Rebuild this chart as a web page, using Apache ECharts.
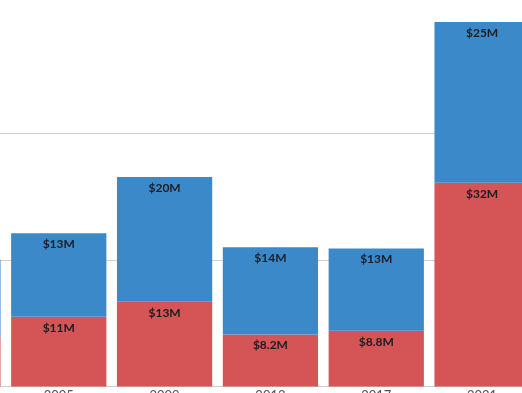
<!DOCTYPE html>
<html>
<head>
<meta charset="utf-8">
<script src="https://cdn.jsdelivr.net/npm/echarts@6/dist/echarts.min.js"></script>
<style>
html,body{margin:0;padding:0;background:#fff;}
#chart{width:522px;height:393px;}
</style>
</head>
<body>
<div id="chart"></div>
<script>
const categories = ['2001', '2005', '2009', '2013', '2017', '2021'];
const redValues = [7.8, 11.0, 13.4, 8.2, 8.8, 32.2];
const blueValues = [12.2, 13.2, 19.7, 13.8, 13.0, 25.4];
const yTicks = [0, 20, 40, 60];

function fmt(v) {
  return '$' + (v >= 10 ? Math.round(v) : v.toFixed(1)) + 'M';
}

const labelStyle = {
  show: true,
  position: 'insideTop',
  distance: 5,
  fontFamily: 'Lato',
  fontWeight: 'bold',
  fontSize: 12,
  color: '#1c1c24',
  formatter: p => fmt(p.value)
};

const chart = echarts.init(document.getElementById('chart'));
chart.setOption({
  animation: false,
  backgroundColor: '#ffffff',
  grid: { left: -100, right: -13, top: 6.7, bottom: 6.5, containLabel: false, outerBoundsMode: 'none' },
  xAxis: {
    type: 'category',
    data: categories,
    axisLine: { show: true, lineStyle: { color: '#cccccc', width: 1 } },
    axisTick: { show: false },
    axisLabel: { margin: 3, fontFamily: 'Lato', fontSize: 13, color: '#555555', hideOverlap: false }
  },
  yAxis: {
    type: 'value',
    min: yTicks[0],
    max: yTicks[yTicks.length - 1],
    interval: 20,
    axisLine: { show: false },
    axisTick: { show: false },
    axisLabel: { show: false },
    splitLine: { show: true, lineStyle: { color: ['#d0d0d0', '#d0d0d0', '#d0d0d0', 'rgba(0,0,0,0)'], width: 1 } }
  },
  series: [
    {
      type: 'bar',
      stack: 'total',
      data: redValues,
      barCategoryGap: '10%',
      itemStyle: { color: '#d55455' },
      label: labelStyle
    },
    {
      type: 'bar',
      stack: 'total',
      data: blueValues,
      barCategoryGap: '10%',
      itemStyle: { color: '#3b89c9' },
      label: labelStyle
    }
  ]
});
</script>
</body>
</html>
